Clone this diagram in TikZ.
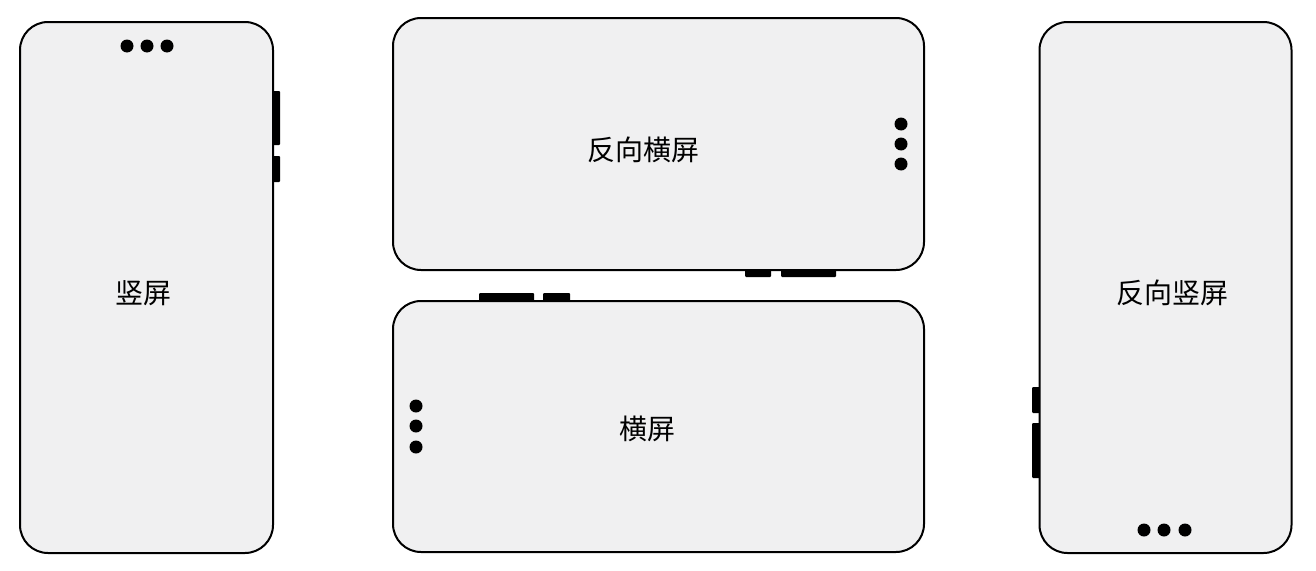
\documentclass[tikz,border=0pt]{standalone}
\usepackage{fontspec}
\newfontfamily\cjk{Noto Sans CJK SC}
\definecolor{phonefill}{RGB}{240,240,241}
\tikzset{
  phone/.style={draw=black, line width=2pt, fill=phonefill, rounded corners=28pt, inner sep=0pt, minimum width=#1},
  dot/.style={circle, fill=black, inner sep=0pt, minimum size=13pt},
  btn/.style={fill=black, rounded corners=1pt, inner sep=0pt, minimum width=#1},
  lbl/.style={font=\cjk\fontsize{28pt}{32pt}\selectfont, inner sep=0pt}
}
\begin{document}
\begin{tikzpicture}[x=1pt,y=-1pt]
\useasboundingbox (0,0) rectangle (1316,570);
% side buttons (behind phones)
\node[btn=8pt, minimum height=54pt] (p1b1) at (276,118) {};
\node[btn=8pt, minimum height=26pt] (p1b2) at (276,169) {};
\node[btn=26pt, minimum height=8pt] (l1b1) at (758,273) {};
\node[btn=55pt, minimum height=8pt] (l1b2) at (808.5,273) {};
\node[btn=55pt, minimum height=8pt] (l2b1) at (506.5,297) {};
\node[btn=27pt, minimum height=8pt] (l2b2) at (556.5,297) {};
\node[btn=8pt, minimum height=26pt] (p2b1) at (1036,400) {};
\node[btn=8pt, minimum height=55pt] (p2b2) at (1036,450.5) {};
% phones
\node[phone=253pt, minimum height=531pt] (p1) at (146.5,287.5) {};
\node[phone=531pt, minimum height=252pt] (l1) at (658.5,144) {};
\node[phone=531pt, minimum height=251pt] (l2) at (658.5,426.5) {};
\node[phone=252pt, minimum height=531pt] (p2) at (1165.5,287.5) {};
% dots
\node[dot] (p1d1) at (127,46) {};
\node[dot] (p1d2) at (147,46) {};
\node[dot] (p1d3) at (167,46) {};
\node[dot] (l1d1) at (901,124) {};
\node[dot] (l1d2) at (901,144) {};
\node[dot] (l1d3) at (901,164) {};
\node[dot] (l2d1) at (416,406) {};
\node[dot] (l2d2) at (416,426) {};
\node[dot] (l2d3) at (416,447) {};
\node[dot] (p2d1) at (1144,530) {};
\node[dot] (p2d2) at (1164,530) {};
\node[dot] (p2d3) at (1185,530) {};
% labels
\node[lbl] (t1) at (143,293) {竖屏};
\node[lbl] (t2) at (643,150) {反向横屏};
\node[lbl] (t3) at (647,429) {横屏};
\node[lbl] (t4) at (1172,293) {反向竖屏};
\end{tikzpicture}
\end{document}
